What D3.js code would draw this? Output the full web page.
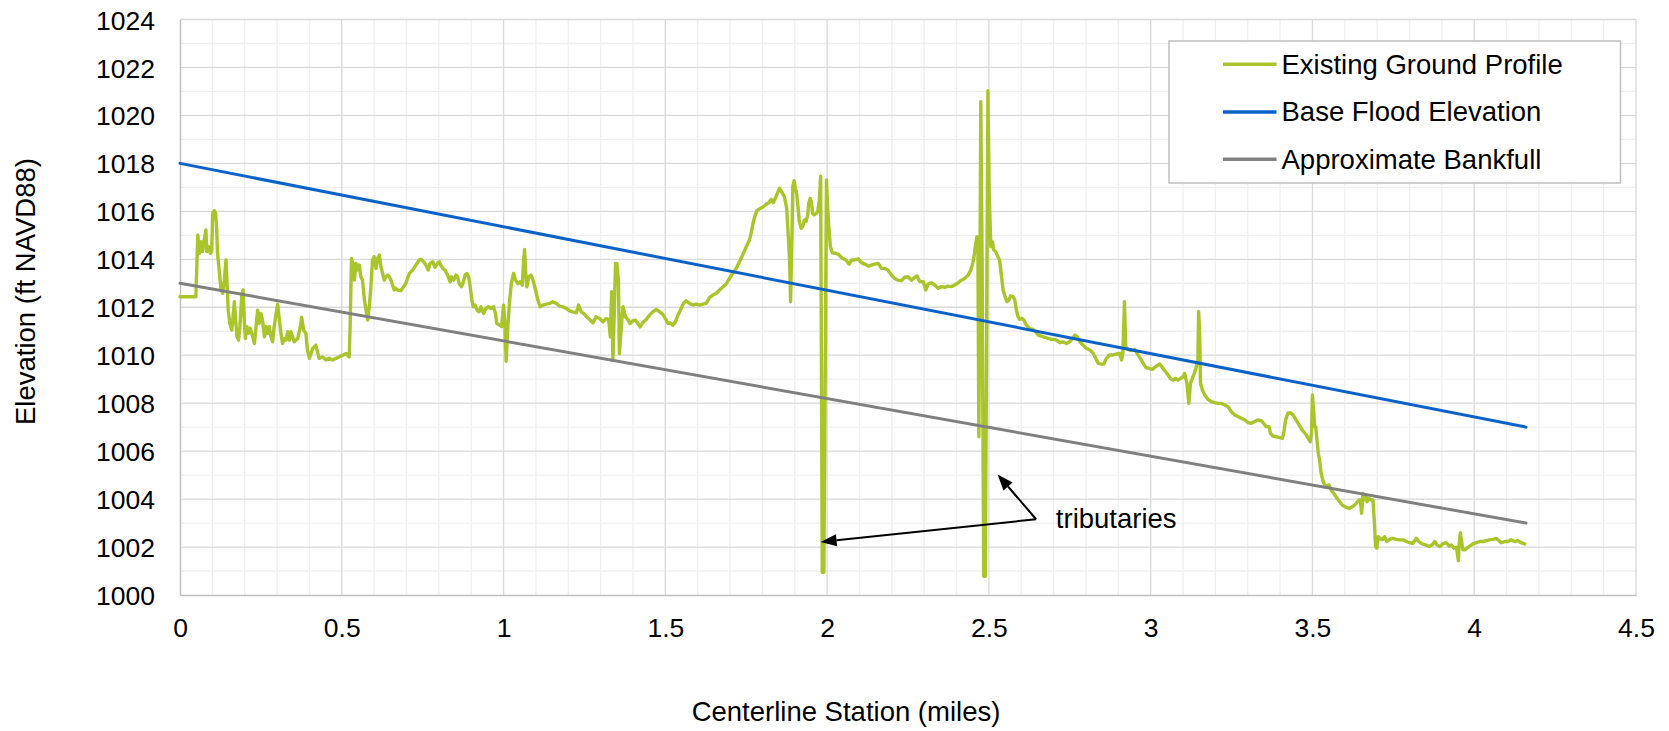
<!DOCTYPE html>
<html>
<head>
<meta charset="utf-8">
<script src="https://cdn.jsdelivr.net/npm/d3@7/dist/d3.min.js"></script>
<style>
  html, body { margin: 0; padding: 0; background: #ffffff; }
  svg { display: block; font-family: "Liberation Sans", Arial, Helvetica, sans-serif; }
</style>
</head>
<body>
<svg id="chart" width="1669" height="731"></svg>
<script>
// ---------------- DATA ----------------
const xTicks = [0, 0.5, 1, 1.5, 2, 2.5, 3, 3.5, 4, 4.5];
const yTicks = [1000, 1002, 1004, 1006, 1008, 1010, 1012, 1014, 1016, 1018, 1020, 1022, 1024];
const seriesNames = ["Existing Ground Profile", "Base Flood Elevation", "Approximate Bankfull"];
const seriesColors = ["#aac42c", "#0a62c9", "#808080"];

// Base Flood Elevation (station miles, elevation ft)
const bfeStation = [0, 4.16];
const bfeElev = [1018, 1007];
// Approximate Bankfull
const bankStation = [0, 4.16];
const bankElev = [1013, 1003];

// Existing ground profile: [station (miles), elevation (ft NAVD88)]
const groundProfile = [
[0.000,1012.44],[0.049,1012.44],[0.055,1015.01],[0.060,1014.25],[0.065,1014.73],[0.070,1014.32],[0.073,1014.66],
[0.080,1015.22],[0.083,1014.32],[0.089,1014.52],[0.094,1014.25],[0.098,1014.32],[0.101,1015.92],[0.106,1016.03],
[0.110,1015.92],[0.113,1015.36],[0.116,1014.25],[0.122,1013.41],[0.127,1012.72],[0.132,1012.58],[0.137,1013.13],
[0.142,1013.97],[0.145,1013.13],[0.149,1011.88],[0.154,1011.33],[0.160,1011.05],[0.165,1011.74],[0.168,1012.23],
[0.172,1011.47],[0.176,1010.77],[0.181,1010.63],[0.185,1011.19],[0.191,1012.51],[0.195,1012.72],[0.199,1011.33],
[0.202,1010.70],[0.207,1011.19],[0.211,1010.91],[0.217,1011.12],[0.225,1010.77],[0.230,1010.49],[0.235,1011.19],
[0.240,1011.88],[0.245,1011.33],[0.250,1011.74],[0.255,1011.47],[0.261,1010.77],[0.266,1011.19],[0.271,1010.91],
[0.276,1011.19],[0.281,1010.77],[0.286,1010.56],[0.291,1011.19],[0.297,1011.74],[0.302,1012.13],[0.307,1011.47],
[0.312,1010.91],[0.317,1010.49],[0.322,1010.70],[0.327,1010.63],[0.333,1010.98],[0.338,1010.63],[0.343,1010.98],
[0.348,1010.77],[0.353,1010.56],[0.364,1010.70],[0.372,1011.19],[0.376,1011.58],[0.382,1011.05],[0.389,1010.91],
[0.394,1010.21],[0.400,1009.87],[0.405,1010.07],[0.410,1010.28],[0.415,1010.35],[0.420,1010.42],[0.425,1010.14],
[0.430,1009.87],[0.441,1009.93],[0.451,1009.80],[0.461,1009.87],[0.472,1009.80],[0.482,1009.87],[0.492,1009.93],
[0.503,1010.00],[0.513,1010.07],[0.523,1009.93],[0.526,1011.33],[0.530,1014.04],[0.536,1013.69],[0.539,1013.13],
[0.544,1013.83],[0.549,1013.55],[0.554,1013.76],[0.559,1013.27],[0.564,1013.13],[0.570,1012.30],[0.575,1011.88],
[0.580,1011.47],[0.585,1012.02],[0.590,1012.86],[0.595,1013.97],[0.600,1014.11],[0.606,1013.62],[0.611,1014.04],
[0.616,1014.18],[0.621,1013.69],[0.626,1013.41],[0.631,1013.13],[0.636,1013.27],[0.642,1013.34],[0.647,1013.27],
[0.652,1013.13],[0.657,1012.92],[0.662,1012.72],[0.667,1012.79],[0.672,1012.72],[0.683,1012.69],[0.691,1012.86],
[0.698,1012.99],[0.703,1013.20],[0.709,1013.41],[0.719,1013.55],[0.729,1013.76],[0.739,1013.97],[0.745,1014.00],
[0.753,1013.90],[0.760,1013.76],[0.767,1013.55],[0.773,1013.83],[0.781,1013.90],[0.788,1013.66],[0.796,1013.83],
[0.801,1013.90],[0.806,1013.76],[0.812,1013.62],[0.819,1013.55],[0.827,1013.34],[0.835,1013.06],[0.839,1013.27],
[0.846,1013.13],[0.853,1013.34],[0.858,1013.27],[0.863,1012.99],[0.870,1012.86],[0.876,1013.06],[0.881,1013.34],
[0.887,1013.41],[0.892,1013.27],[0.897,1012.86],[0.902,1012.30],[0.906,1012.02],[0.912,1012.09],[0.918,1011.88],
[0.924,1011.81],[0.930,1012.02],[0.938,1011.74],[0.945,1011.95],[0.953,1012.02],[0.961,1011.95],[0.969,1012.02],
[0.975,1011.74],[0.979,1011.33],[0.987,1011.26],[0.994,1011.19],[1.000,1012.09],[1.004,1011.33],[1.008,1009.75],
[1.013,1011.18],[1.019,1012.30],[1.024,1012.99],[1.031,1013.41],[1.037,1013.13],[1.044,1012.99],[1.051,1013.06],
[1.058,1012.92],[1.062,1013.97],[1.065,1014.41],[1.068,1013.55],[1.072,1012.85],[1.078,1013.27],[1.085,1013.34],
[1.091,1013.13],[1.099,1012.71],[1.106,1012.30],[1.113,1012.02],[1.122,1012.09],[1.132,1012.13],[1.142,1012.16],
[1.152,1012.23],[1.163,1012.16],[1.173,1012.05],[1.183,1012.02],[1.194,1011.95],[1.204,1011.85],[1.214,1011.81],
[1.225,1011.77],[1.232,1012.09],[1.240,1011.81],[1.250,1011.71],[1.257,1011.60],[1.266,1011.49],[1.276,1011.35],
[1.286,1011.60],[1.297,1011.53],[1.307,1011.39],[1.317,1011.53],[1.325,1011.49],[1.330,1010.77],[1.334,1012.65],
[1.338,1009.79],[1.343,1012.16],[1.346,1013.83],[1.350,1013.83],[1.355,1013.13],[1.358,1010.07],[1.364,1011.18],
[1.369,1012.02],[1.377,1011.60],[1.384,1011.49],[1.391,1011.32],[1.400,1011.44],[1.408,1011.46],[1.415,1011.32],
[1.422,1011.18],[1.430,1011.35],[1.441,1011.49],[1.451,1011.67],[1.461,1011.81],[1.472,1011.91],[1.482,1011.81],
[1.492,1011.71],[1.500,1011.53],[1.508,1011.32],[1.515,1011.35],[1.523,1011.25],[1.531,1011.39],[1.539,1011.67],
[1.549,1011.95],[1.556,1012.16],[1.564,1012.27],[1.575,1012.16],[1.585,1012.09],[1.595,1012.13],[1.606,1012.09],
[1.616,1012.13],[1.626,1012.16],[1.637,1012.41],[1.647,1012.51],[1.657,1012.58],[1.667,1012.71],[1.678,1012.85],
[1.688,1012.97],[1.698,1013.20],[1.708,1013.41],[1.719,1013.62],[1.729,1013.90],[1.739,1014.18],[1.750,1014.52],
[1.760,1014.80],[1.765,1015.08],[1.770,1015.43],[1.776,1015.77],[1.783,1016.03],[1.793,1016.12],[1.803,1016.19],
[1.812,1016.30],[1.820,1016.36],[1.827,1016.50],[1.834,1016.36],[1.842,1016.61],[1.847,1016.78],[1.853,1016.96],
[1.861,1016.78],[1.868,1016.61],[1.875,1016.12],[1.879,1015.22],[1.884,1013.97],[1.887,1012.23],[1.891,1014.66],
[1.894,1017.03],[1.898,1017.28],[1.902,1016.96],[1.906,1016.75],[1.910,1016.19],[1.914,1015.57],[1.920,1015.29],
[1.925,1015.39],[1.930,1015.64],[1.935,1015.57],[1.940,1015.85],[1.943,1016.33],[1.948,1016.54],[1.952,1016.33],
[1.955,1015.91],[1.960,1015.85],[1.966,1015.91],[1.971,1015.98],[1.976,1016.47],[1.980,1017.47],[1.985,1000.95],
[1.990,1000.95],[1.998,1017.31],[2.003,1015.78],[2.010,1014.53],[2.016,1014.27],[2.027,1014.25],[2.037,1014.18],
[2.047,1014.04],[2.058,1013.97],[2.068,1013.80],[2.075,1013.97],[2.085,1013.97],[2.096,1014.02],[2.106,1013.86],
[2.116,1013.80],[2.127,1013.72],[2.137,1013.76],[2.147,1013.80],[2.158,1013.83],[2.168,1013.62],[2.178,1013.62],
[2.188,1013.55],[2.199,1013.34],[2.209,1013.20],[2.219,1013.13],[2.230,1013.11],[2.240,1013.25],[2.250,1013.27],
[2.261,1013.13],[2.271,1013.25],[2.278,1013.30],[2.286,1013.07],[2.297,1013.07],[2.305,1012.72],[2.312,1012.97],
[2.322,1013.02],[2.333,1012.93],[2.343,1012.79],[2.353,1012.86],[2.363,1012.83],[2.374,1012.88],[2.384,1012.86],
[2.394,1012.93],[2.405,1013.02],[2.415,1013.13],[2.425,1013.20],[2.436,1013.34],[2.443,1013.52],[2.449,1013.76],
[2.454,1014.11],[2.458,1014.53],[2.463,1014.94],[2.466,1014.53],[2.469,1006.60],[2.472,1012.58],[2.475,1020.57],
[2.479,1014.04],[2.484,1000.78],[2.489,1000.78],[2.497,1021.03],[2.501,1016.75],[2.506,1014.53],[2.511,1014.73],
[2.515,1014.39],[2.521,1014.32],[2.528,1014.11],[2.533,1013.97],[2.538,1013.41],[2.544,1012.72],[2.550,1012.44],
[2.556,1012.23],[2.562,1012.30],[2.567,1012.47],[2.575,1012.44],[2.580,1012.30],[2.585,1011.88],[2.590,1011.61],
[2.595,1011.49],[2.602,1011.54],[2.608,1011.47],[2.614,1011.30],[2.621,1011.19],[2.628,1011.08],[2.636,1011.08],
[2.645,1010.98],[2.652,1010.84],[2.662,1010.80],[2.673,1010.74],[2.683,1010.70],[2.693,1010.66],[2.703,1010.66],
[2.711,1010.61],[2.719,1010.52],[2.729,1010.56],[2.740,1010.49],[2.750,1010.56],[2.758,1010.70],[2.766,1010.84],
[2.773,1010.77],[2.781,1010.56],[2.791,1010.42],[2.801,1010.29],[2.812,1010.22],[2.822,1010.08],[2.830,1009.87],
[2.838,1009.66],[2.848,1009.63],[2.855,1009.63],[2.863,1009.87],[2.873,1010.01],[2.884,1010.01],[2.894,1010.05],
[2.904,1010.08],[2.910,1009.80],[2.914,1010.08],[2.919,1012.23],[2.923,1010.35],[2.930,1010.24],[2.940,1010.19],
[2.951,1010.24],[2.961,1010.01],[2.968,1009.87],[2.977,1009.66],[2.985,1009.49],[2.995,1009.45],[3.005,1009.41],
[3.015,1009.52],[3.023,1009.59],[3.028,1009.63],[3.033,1009.55],[3.038,1009.45],[3.046,1009.31],[3.054,1009.17],
[3.061,1009.03],[3.069,1008.96],[3.077,1009.03],[3.084,1008.96],[3.092,1009.03],[3.100,1009.10],[3.105,1009.24],
[3.112,1008.83],[3.118,1007.99],[3.123,1008.83],[3.129,1009.04],[3.135,1009.24],[3.141,1009.52],[3.146,1009.80],
[3.148,1011.82],[3.151,1011.19],[3.154,1008.83],[3.160,1008.55],[3.167,1008.34],[3.177,1008.16],[3.188,1008.06],
[3.198,1008.02],[3.208,1007.99],[3.218,1007.99],[3.229,1007.92],[3.239,1007.85],[3.249,1007.65],[3.260,1007.51],
[3.270,1007.44],[3.280,1007.37],[3.291,1007.30],[3.301,1007.19],[3.311,1007.16],[3.321,1007.23],[3.332,1007.30],
[3.342,1007.26],[3.349,1007.16],[3.357,1007.02],[3.366,1007.02],[3.370,1006.74],[3.378,1006.63],[3.388,1006.60],
[3.399,1006.56],[3.407,1006.53],[3.411,1006.74],[3.417,1007.30],[3.424,1007.58],[3.432,1007.60],[3.440,1007.51],
[3.448,1007.33],[3.456,1007.16],[3.465,1006.95],[3.473,1006.81],[3.481,1006.67],[3.487,1006.53],[3.493,1006.39],
[3.497,1006.74],[3.500,1008.34],[3.504,1007.58],[3.507,1007.02],[3.510,1007.02],[3.514,1006.46],[3.518,1005.91],
[3.522,1005.63],[3.527,1005.07],[3.533,1004.73],[3.538,1004.59],[3.543,1004.55],[3.551,1004.59],[3.558,1004.38],
[3.566,1004.24],[3.574,1004.07],[3.582,1003.93],[3.592,1003.75],[3.603,1003.66],[3.613,1003.61],[3.620,1003.66],
[3.627,1003.71],[3.635,1003.82],[3.644,1003.96],[3.648,1003.96],[3.652,1003.41],[3.656,1004.24],[3.660,1003.96],
[3.665,1004.17],[3.669,1003.89],[3.675,1004.03],[3.682,1003.96],[3.687,1003.96],[3.691,1003.13],[3.695,1002.02],
[3.699,1001.95],[3.703,1002.43],[3.708,1002.36],[3.716,1002.30],[3.723,1002.43],[3.730,1002.23],[3.739,1002.32],
[3.749,1002.36],[3.759,1002.32],[3.769,1002.30],[3.780,1002.30],[3.790,1002.23],[3.800,1002.18],[3.810,1002.15],
[3.821,1002.36],[3.829,1002.23],[3.839,1002.13],[3.850,1002.09],[3.860,1002.02],[3.870,1002.09],[3.878,1002.23],
[3.885,1002.09],[3.893,1002.02],[3.903,1002.13],[3.914,1002.18],[3.922,1002.04],[3.929,1002.09],[3.937,1001.95],
[3.945,1001.99],[3.951,1001.43],[3.953,1002.02],[3.957,1002.60],[3.961,1002.23],[3.965,1001.88],[3.971,1001.88],
[3.977,1001.95],[3.986,1002.04],[3.996,1002.13],[4.006,1002.18],[4.017,1002.23],[4.027,1002.23],[4.037,1002.27],
[4.047,1002.30],[4.058,1002.32],[4.068,1002.36],[4.076,1002.27],[4.083,1002.18],[4.094,1002.23],[4.104,1002.23],
[4.114,1002.30],[4.125,1002.23],[4.135,1002.27],[4.145,1002.18],[4.156,1002.13]
];

// Annotation (data coordinates)
const annotationText = "tributaries";
const annotationJoint = [2.646, 1003.16];
const annotationTips = [[1.980, 1002.21], [2.527, 1005.03]];
const annotationLabelPos = [2.707, 1002.79];

// ---------------- LAYOUT ----------------
const W = 1669, H = 731;
const plot = { left: 180, right: 1636, top: 19.5, bottom: 595 };

const svg = d3.select("#chart");
svg.append("rect").attr("width", W).attr("height", H).attr("fill", "#ffffff");

const x = d3.scaleLinear().domain([0, 4.5]).range([plot.left, plot.right]);
const y = d3.scaleLinear().domain([1000, 1024]).range([plot.bottom, plot.top]);

// Gridlines
const grid = svg.append("g");
const minorX = d3.range(0, 45.5, 1).map(d => d / 10).filter(d => Math.abs(d * 2 - Math.round(d * 2)) > 1e-6);
const minorY = d3.range(1001, 1024, 2);
grid.selectAll(".mx").data(minorX).join("line")
  .attr("x1", d => x(d)).attr("x2", d => x(d)).attr("y1", plot.top).attr("y2", plot.bottom)
  .attr("stroke", "#efefef").attr("stroke-width", 1.3);
grid.selectAll(".my").data(minorY).join("line")
  .attr("x1", plot.left).attr("x2", plot.right).attr("y1", d => y(d)).attr("y2", d => y(d))
  .attr("stroke", "#efefef").attr("stroke-width", 1.3);
grid.selectAll(".Mx").data(xTicks.filter(d => d > 0)).join("line")
  .attr("x1", d => x(d)).attr("x2", d => x(d)).attr("y1", plot.top).attr("y2", plot.bottom)
  .attr("stroke", "#d9d9d9").attr("stroke-width", 1.3);
grid.selectAll(".My").data(yTicks.filter(d => d > 1000)).join("line")
  .attr("x1", plot.left).attr("x2", plot.right).attr("y1", d => y(d)).attr("y2", d => y(d))
  .attr("stroke", "#d9d9d9").attr("stroke-width", 1.3);

// Axes
const xAxis = d3.axisBottom(x).tickValues(xTicks).tickSize(0).tickPadding(16)
  .tickFormat(d => String(+d.toFixed(1)));
const yAxis = d3.axisLeft(y).tickValues(yTicks).tickSize(0).tickPadding(25)
  .tickFormat(d => String(d));

const gx = svg.append("g").attr("transform", `translate(0,${plot.bottom})`).call(xAxis);
const gy = svg.append("g").attr("transform", `translate(${plot.left},0)`).call(yAxis);
[gx, gy].forEach(g => {
  g.select(".domain").attr("stroke", "#bfbfbf").attr("stroke-width", 1.5);
  g.selectAll("text").attr("fill", "#000").style("font-size", "26.5px")
   .style("font-family", '"Liberation Sans", Arial, sans-serif');
});
gx.selectAll("text").attr("dy", null).attr("y", 41.5);
gy.selectAll("text").attr("dy", "0.36em");

// Series lines (drawn in series order: ground first, then BFE, then bankfull)
const lineGen = d3.line().x(d => x(d[0])).y(d => y(d[1]));
const bfe = bfeStation.map((s, i) => [s, bfeElev[i]]);
const bank = bankStation.map((s, i) => [s, bankElev[i]]);

svg.append("path").datum(groundProfile).attr("d", lineGen)
  .attr("fill", "none").attr("stroke", seriesColors[0]).attr("stroke-width", 3.4)
  .attr("stroke-linejoin", "round").attr("stroke-linecap", "round");
svg.append("path").datum(bfe).attr("d", lineGen)
  .attr("fill", "none").attr("stroke", seriesColors[1]).attr("stroke-width", 3).attr("stroke-linecap", "round");
svg.append("path").datum(bank).attr("d", lineGen)
  .attr("fill", "none").attr("stroke", seriesColors[2]).attr("stroke-width", 3).attr("stroke-linecap", "round");

// Annotation arrows
const ann = svg.append("g");
const jx = x(annotationJoint[0]), jy = y(annotationJoint[1]);
annotationTips.forEach(t => {
  const tx = x(t[0]), ty = y(t[1]);
  const dx = tx - jx, dy = ty - jy, len = Math.hypot(dx, dy);
  const ux = dx / len, uy = dy / len;
  const headLen = 16, headW = 6;
  const bx = tx - ux * headLen, by = ty - uy * headLen;
  ann.append("line").attr("x1", jx).attr("y1", jy).attr("x2", bx).attr("y2", by)
    .attr("stroke", "#000").attr("stroke-width", 2);
  ann.append("polygon")
    .attr("points", [[tx, ty], [bx - uy * headW, by + ux * headW], [bx + uy * headW, by - ux * headW]].map(p => p.join(",")).join(" "))
    .attr("fill", "#000");
});
ann.append("text").attr("x", x(annotationLabelPos[0])).attr("y", y(annotationLabelPos[1]))
  .attr("fill", "#000").style("font-size", "27.5px").text(annotationText);

// Axis titles
svg.append("text").attr("x", 846).attr("y", 721).attr("text-anchor", "middle")
  .style("font-size", "27.5px").attr("fill", "#000").text("Centerline Station (miles)");
svg.append("text").attr("transform", "translate(35,291.5) rotate(-90)").attr("text-anchor", "middle")
  .style("font-size", "27.5px").attr("fill", "#000").text("Elevation (ft NAVD88)");

// Legend
const lg = svg.append("g");
lg.append("rect").attr("x", 1169).attr("y", 41).attr("width", 451.5).attr("height", 142)
  .attr("fill", "#ffffff").attr("stroke", "#bfbfbf").attr("stroke-width", 1.5);
const legendY = [64.3, 112, 159.3];
seriesNames.forEach((name, i) => {
  lg.append("line").attr("x1", 1223).attr("x2", 1276.5).attr("y1", legendY[i]).attr("y2", legendY[i])
    .attr("stroke", seriesColors[i]).attr("stroke-width", 3.4);
  lg.append("text").attr("x", 1281.5).attr("y", legendY[i] + 9.3)
    .style("font-size", "27.5px").attr("fill", "#000").text(name);
});
</script>
</body>
</html>
